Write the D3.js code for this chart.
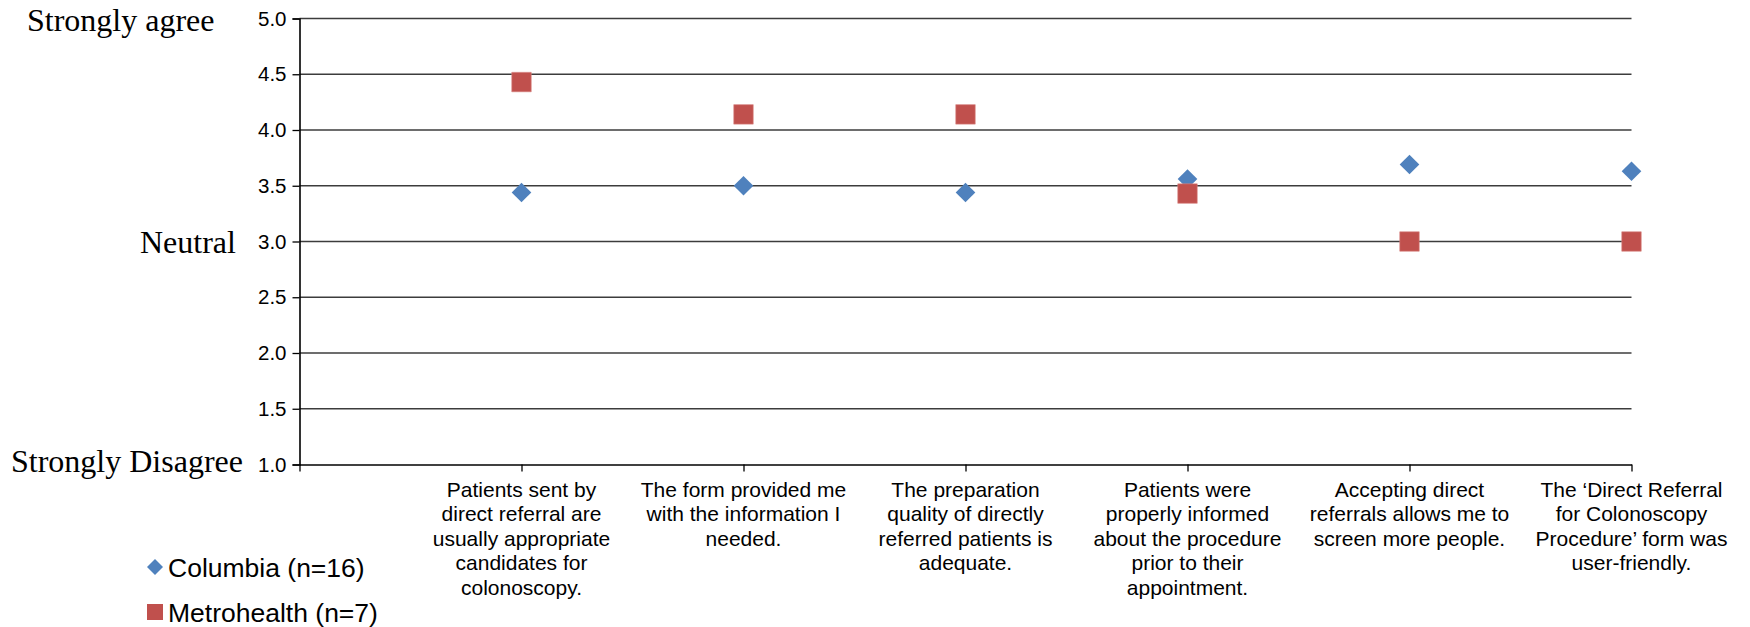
<!DOCTYPE html>
<html>
<head>
<meta charset="utf-8">
<script src="https://cdn.jsdelivr.net/npm/d3@7"></script>
<style>
html,body{margin:0;padding:0;background:#fff;}
svg{display:block;}
</style>
</head>
<body>
<svg id="chart" width="1750" height="627"></svg>
<script>
// ---- data ----
const categories = [
  ["Patients sent by","direct referral are","usually appropriate","candidates for","colonoscopy."],
  ["The form provided me","with the information I","needed."],
  ["The preparation","quality of directly","referred patients is","adequate."],
  ["Patients were","properly informed","about the procedure","prior to their","appointment."],
  ["Accepting direct","referrals allows me to","screen more people."],
  ["The \u2018Direct Referral","for Colonoscopy","Procedure\u2019 form was","user-friendly."]
];
const columbia = [3.44, 3.50, 3.44, 3.56, 3.69, 3.63];
const metrohealth = [4.43, 4.14, 4.14, 3.43, 3.00, 3.00];
const yTicks = [1.0, 1.5, 2.0, 2.5, 3.0, 3.5, 4.0, 4.5, 5.0];
const seriesNames = ["Columbia (n=16)", "Metrohealth (n=7)"];
const scaleLabels = [
  {text: "Strongly agree", value: 5.0},
  {text: "Neutral", value: 3.0},
  {text: "Strongly Disagree", value: 1.0}
];

// ---- layout ----
const svg = d3.select("#chart");
const x = d3.scaleLinear().domain([0, categories.length]).range([299.5, 1631.5]);
const y = d3.scaleLinear().domain([1, 5]).range([464.5, 18.5]);
const blue = "#4F81BD", red = "#C0504D";

// gridlines
svg.append("g").selectAll("line")
  .data(yTicks.filter(d => d > 1))
  .join("line")
  .attr("x1", x(0)).attr("x2", x(categories.length))
  .attr("y1", d => y(d)).attr("y2", d => y(d))
  .attr("stroke", "#3c3c3c").attr("stroke-width", 1.3);

// y axis
const yAxis = d3.axisLeft(y).tickValues(yTicks).tickFormat(d3.format(".1f")).tickSize(7).tickPadding(6);
const gy = svg.append("g").attr("transform", `translate(${x(0)},0)`).call(yAxis);
gy.select(".domain").attr("stroke", "#000").attr("stroke-width", 1.6);
gy.selectAll(".tick line").attr("stroke", "#000").attr("stroke-width", 1.3);
gy.selectAll(".tick text").attr("font-family", "Liberation Sans, Arial, sans-serif")
  .attr("font-size", 20.5).attr("fill", "#000");

// x axis
const xAxis = d3.axisBottom(x).tickValues(d3.range(0, categories.length + 1)).tickFormat("").tickSize(7).tickSizeOuter(0);
const gx = svg.append("g").attr("transform", `translate(0,${y(1)})`).call(xAxis);
gx.select(".domain").attr("stroke", "#000").attr("stroke-width", 1.6);
gx.selectAll(".tick line").attr("stroke", "#000").attr("stroke-width", 1.3);

// category labels
const catG = svg.append("g").attr("font-family", "Liberation Sans, Arial, sans-serif")
  .attr("font-size", 21).attr("fill", "#000").attr("text-anchor", "middle");
categories.forEach((lines, i) => {
  const t = catG.append("text").attr("x", x(i + 1)).attr("y", 497);
  lines.forEach((ln, j) => {
    t.append("tspan").attr("x", x(i + 1)).attr("y", 497 + j * 24.4).text(ln);
  });
});

// markers
const diamond = d3.symbol().type(d3.symbolSquare);
svg.append("g").selectAll("path")
  .data(columbia)
  .join("path")
  .attr("d", diamond.size(192)())
  .attr("transform", (d, i) => `translate(${x(i + 1)},${y(d)}) rotate(45)`)
  .attr("fill", blue);

svg.append("g").selectAll("path")
  .data(metrohealth)
  .join("path")
  .attr("d", d3.symbol().type(d3.symbolSquare).size(380)())
  .attr("transform", (d, i) => `translate(${x(i + 1)},${y(d)})`)
  .attr("fill", red).attr("stroke", "#d98784").attr("stroke-width", 0.6);

// scale labels (serif)
const slPos = [{x: 27, dy: 12}, {x: 140, dy: 11}, {x: 11, dy: 7}];
svg.append("g").attr("font-family", "Liberation Serif, Times New Roman, serif")
  .attr("font-size", 32).attr("fill", "#000")
  .selectAll("text").data(scaleLabels).join("text")
  .attr("x", (d, i) => slPos[i].x)
  .attr("y", (d, i) => y(d.value) + slPos[i].dy)
  .text(d => d.text);

// legend
const leg = svg.append("g").attr("font-family", "Liberation Sans, Arial, sans-serif")
  .attr("font-size", 26.5).attr("fill", "#000");
const legY = [567, 612];
leg.append("path").attr("d", d3.symbol().type(d3.symbolSquare).size(128)())
  .attr("transform", `translate(155,${legY[0]}) rotate(45)`).attr("fill", blue);
leg.append("path").attr("d", d3.symbol().type(d3.symbolSquare).size(256)())
  .attr("transform", `translate(155,${legY[1]})`).attr("fill", red);
leg.selectAll("text").data(seriesNames).join("text")
  .attr("x", 168).attr("y", (d, i) => legY[i] + 9.5).text(d => d);
</script>
</body>
</html>
